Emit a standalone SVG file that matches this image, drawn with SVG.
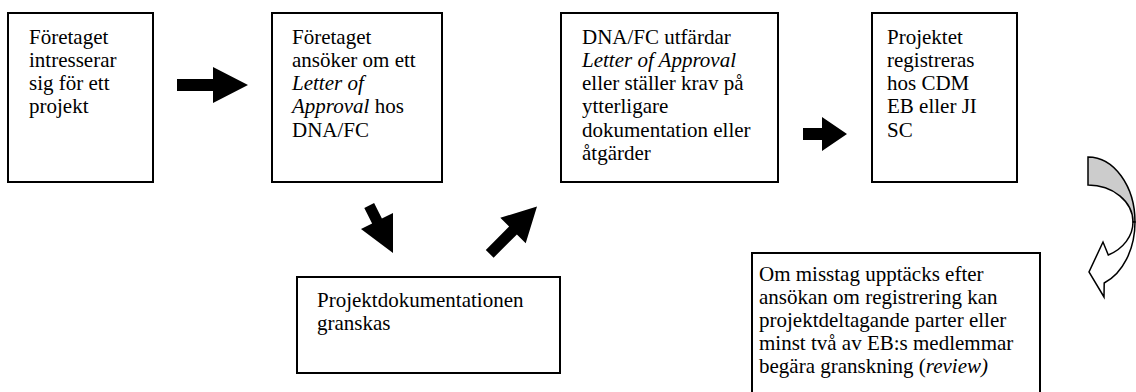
<svg xmlns="http://www.w3.org/2000/svg" width="1136" height="392" viewBox="0 0 1136 392">
<style>
.box{fill:#fff;stroke:#000;stroke-width:2}
.t{font-family:'Liberation Serif','Times New Roman',serif;font-size:21px;fill:#000}
.i{font-style:italic}
.arr{fill:#000;stroke:none}
</style>
<rect width="1136" height="392" fill="#fff"/>
<g id="n1">
<rect class="box" x="8" y="13" width="145" height="169"/>
<text class="t"><tspan x="29" y="43.5">Företaget</tspan><tspan x="29" y="66.8">intresserar</tspan><tspan x="29" y="90.1">sig för ett</tspan><tspan x="29" y="113.4">projekt</tspan></text>
</g>
<g id="n2">
<rect class="box" x="272" y="13" width="170" height="169"/>
<text class="t"><tspan x="292" y="43.5">Företaget</tspan><tspan x="292" y="66.8">ansöker om ett</tspan><tspan x="292" y="90.1" class="i">Letter of</tspan><tspan x="292" y="113.4"><tspan class="i">Approval</tspan> hos</tspan><tspan x="292" y="136.7">DNA/FC</tspan></text>
</g>
<g id="n3">
<rect class="box" x="561" y="13" width="217" height="169"/>
<text class="t"><tspan x="582" y="43.5">DNA/FC utfärdar</tspan><tspan x="582" y="66.8" class="i">Letter of Approval</tspan><tspan x="582" y="90.1">eller ställer krav på</tspan><tspan x="582" y="113.4">ytterligare</tspan><tspan x="582" y="136.7">dokumentation eller</tspan><tspan x="582" y="160">åtgärder</tspan></text>
</g>
<g id="n4">
<rect class="box" x="872" y="13" width="145" height="169"/>
<text class="t"><tspan x="887" y="43.5">Projektet</tspan><tspan x="887" y="66.8">registreras</tspan><tspan x="887" y="90.1">hos CDM</tspan><tspan x="887" y="113.4">EB eller JI</tspan><tspan x="887" y="136.7">SC</tspan></text>
</g>
<g id="n5">
<rect class="box" x="297" y="277" width="263" height="96"/>
<text class="t"><tspan x="317" y="307">Projektdokumentationen</tspan><tspan x="317" y="330.3">granskas</tspan></text>
</g>
<g id="n6">
<rect class="box" x="752" y="253" width="288" height="150"/>
<text class="t"><tspan x="759" y="281">Om misstag upptäcks efter</tspan><tspan x="759" y="304">ansökan om registrering kan</tspan><tspan x="759" y="327">projektdeltagande parter eller</tspan><tspan x="759" y="350">minst två av EB:s medlemmar</tspan><tspan x="759" y="373">begära granskning (<tspan class="i">review)</tspan></tspan></text>
</g>
<g id="connectors">
<polygon class="arr" points="177,79 213,79 213,67 248,85 213,103 213,91 177,91"/>
<polygon class="arr" points="803,128 822,128 822,117 847,134 822,151 822,140 803,140"/>
<polygon class="arr" points="364.3,207.9 374.1,202.9 381.9,218.5 393,213 393,253 361,229 372.1,223.5"/>
<polygon class="arr" points="485.8,249.9 509.1,226.6 500.3,217.8 537,206.5 525.7,243.2 516.9,234.4 493.6,257.7"/>
<path d="M1088,157 A47,65 0 0 1 1135,222 L1133,222 A45,37 0 0 0 1088,185 Z" fill="#cccccc" stroke="#000" stroke-width="1.5"/>
<path d="M1133,222 A45,37 0 0 1 1108.3,255 L1103,242 L1089,272 L1104,297 L1104.2,283 A47,65 0 0 0 1135,222 Z" fill="#fff" stroke="#000" stroke-width="1.5"/>
</g>
</svg>
